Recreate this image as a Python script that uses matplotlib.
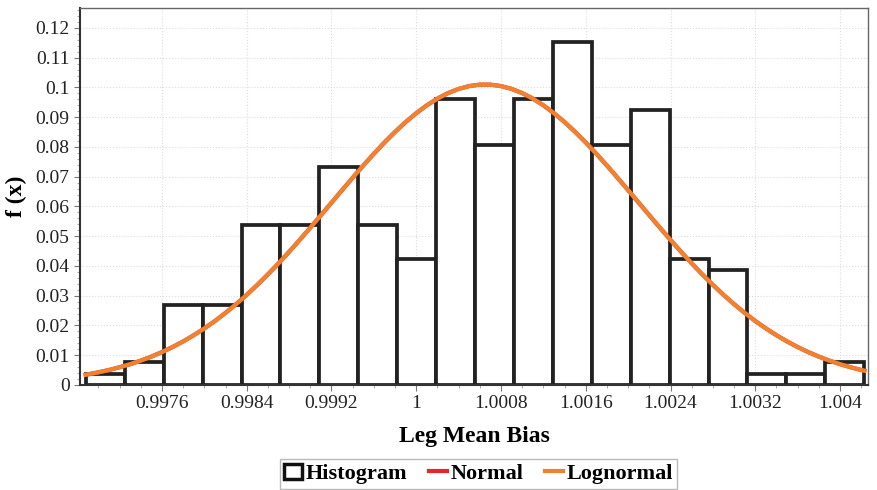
import matplotlib
matplotlib.use('Agg')

import matplotlib.pyplot as plt
from matplotlib.patches import Rectangle
from matplotlib.lines import Line2D
from matplotlib.ticker import MultipleLocator, FuncFormatter

plt.rcParams['font.family'] = ['Liberation Serif', 'DejaVu Serif']

# histogram: 20 bins, relative frequency
bin_start = 0.996882
bin_width = 0.0003673
freq = [0.0038, 0.0077, 0.0269, 0.0269, 0.0538, 0.0538, 0.0731, 0.0538, 0.0423, 0.0962,
        0.0808, 0.0962, 0.1154, 0.0808, 0.0923, 0.0423, 0.0385, 0.0038, 0.0038, 0.0077]

# fitted curves, values
curve_x = [0.99688,
           0.9970, 0.9971, 0.9972, 0.9973, 0.9974, 0.9975, 0.9976, 0.9977, 0.9978, 0.9979,
           0.9980, 0.9981, 0.9982, 0.9983, 0.9984, 0.9985, 0.9986, 0.9987, 0.9988, 0.9989,
           0.9990, 0.9991, 0.9992, 0.9993, 0.9994, 0.9995, 0.9996, 0.9997, 0.9998, 0.9999,
           1.0000, 1.0001, 1.0002, 1.0003, 1.0004, 1.0005, 1.0006, 1.0007, 1.0008, 1.0009,
           1.0010, 1.0011, 1.0012, 1.0013, 1.0014, 1.0015, 1.0016, 1.0017, 1.0018, 1.0019,
           1.0020, 1.0021, 1.0022, 1.0023, 1.0024, 1.0025, 1.0026, 1.0027, 1.0028, 1.0029,
           1.0030, 1.0031, 1.0032, 1.0033, 1.0034, 1.0035, 1.0036, 1.0037, 1.0038, 1.0039,
           1.0040, 1.0041, 1.0042,
           1.00423]
normal_y = [0.00344,
            0.00425, 0.00504, 0.00596, 0.00700, 0.00819, 0.00954, 0.01106, 0.01275, 0.01464, 0.01673,
            0.01901, 0.02151, 0.02424, 0.02717, 0.03030, 0.03365, 0.03718, 0.04088, 0.04475, 0.04875,
            0.05286, 0.05705, 0.06126, 0.06548, 0.06965, 0.07375, 0.07771, 0.08150, 0.08505, 0.08836,
            0.09134, 0.09399, 0.09625, 0.09810, 0.09950, 0.10046, 0.10094, 0.10094, 0.10046, 0.09950,
            0.09810, 0.09625, 0.09399, 0.09134, 0.08836, 0.08505, 0.08150, 0.07771, 0.07375, 0.06965,
            0.06548, 0.06126, 0.05705, 0.05286, 0.04875, 0.04475, 0.04088, 0.03718, 0.03365, 0.03030,
            0.02717, 0.02424, 0.02151, 0.01901, 0.01673, 0.01464, 0.01275, 0.01106, 0.00954, 0.00819,
            0.00700, 0.00596, 0.00504,
            0.00480]
lognormal_y = list(normal_y)

fig = plt.figure(figsize=(8.78, 4.90), dpi=100)
ax = fig.add_axes([0.0911, 0.2143, 0.8975, 0.7694])

lefts = [bin_start + i * bin_width for i in range(len(freq))]
ax.bar(lefts, freq, width=bin_width, align='edge', color='white',
       edgecolor='#222222', linewidth=2.7, zorder=2)
ax.plot(curve_x, normal_y, color='#e8262a', linewidth=3, zorder=3)
ax.plot(curve_x, lognormal_y, color='#f0812e', linewidth=3, zorder=4)

ax.set_xlim(0.996826, 1.004264)
ax.set_ylim(0, 0.1267)
ax.xaxis.set_major_locator(MultipleLocator(0.0008))
ax.xaxis.set_minor_locator(MultipleLocator(0.0002))
ax.yaxis.set_major_locator(MultipleLocator(0.01))
ax.yaxis.set_minor_locator(MultipleLocator(0.002))
ax.xaxis.set_major_formatter(FuncFormatter(lambda v, p: ('%.4f' % v).rstrip('0').rstrip('.')))
ax.yaxis.set_major_formatter(FuncFormatter(lambda v, p: ('%.2f' % v).rstrip('0').rstrip('.')))

ax.grid(True, which='major', color='#dddddd', linestyle=':', linewidth=0.8, zorder=0)
ax.set_axisbelow(True)
ax.tick_params(axis='both', which='major', labelsize=14, color='#777777', length=4,
               labelcolor='#222222')
ax.tick_params(axis='both', which='minor', color='#999999', length=2.5)

for s in ['left', 'bottom']:
    ax.spines[s].set_color('#333333')
    ax.spines[s].set_linewidth(1.5)
for s in ['top', 'right']:
    ax.spines[s].set_color('#666666')
    ax.spines[s].set_linewidth(1.0)

ax.set_xlabel('Leg Mean Bias', fontsize=17, fontweight='bold', labelpad=10)
ax.set_ylabel('f (x)', fontsize=17, fontweight='bold', labelpad=6)

handles = [Rectangle((0, 0), 1, 1, facecolor='white', edgecolor='#111111', linewidth=2.5),
           Line2D([], [], color='#e8262a', linewidth=3),
           Line2D([], [], color='#f0812e', linewidth=3)]
leg = fig.legend(handles, ['Histogram', 'Normal', 'Lognormal'], loc='center',
                 bbox_to_anchor=(0.545, 0.033), ncol=3, frameon=True, fancybox=False,
                 handlelength=0.8, handletextpad=0.15, columnspacing=1.0,
                 borderpad=0.2, prop={'size': 16, 'weight': 'bold'})
leg.get_frame().set_edgecolor('#aaaaaa')
leg.get_frame().set_linewidth(1.0)

plt.savefig('out.png', dpi=100)
